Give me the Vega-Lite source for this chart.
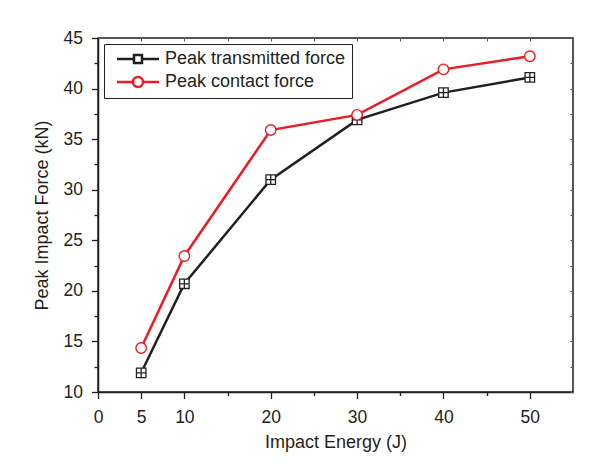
{
  "$schema": "https://vega.github.io/schema/vega-lite/v6.json",
  "width": 475,
  "height": 354,
  "autosize": {"type": "none"},
  "padding": {"left": 98, "top": 38, "right": 17, "bottom": 77},
  "background": "white",
  "config": {
    "view": {"stroke": "#231f20", "strokeWidth": 1.5},
    "font": "Liberation Sans",
    "axis": {
      "labelFont": "Liberation Sans",
      "titleFont": "Liberation Sans",
      "labelFontSize": 17.5,
      "titleFontSize": 18,
      "titleFontWeight": "normal",
      "labelColor": "#231f20",
      "titleColor": "#231f20",
      "domainColor": "#231f20",
      "tickColor": "#231f20",
      "domainWidth": 1.5,
      "tickWidth": 1.3,
      "grid": false,
      "labelOverlap": false,
      "labelFlush": false
    }
  },
  "data": {
    "values": [
      {"energy": 5, "force": 11.9, "series": "Peak transmitted force"},
      {"energy": 10, "force": 20.7, "series": "Peak transmitted force"},
      {"energy": 20, "force": 31.0, "series": "Peak transmitted force"},
      {"energy": 30, "force": 36.9, "series": "Peak transmitted force"},
      {"energy": 40, "force": 39.6, "series": "Peak transmitted force"},
      {"energy": 50, "force": 41.1, "series": "Peak transmitted force"},
      {"energy": 5, "force": 14.35, "series": "Peak contact force"},
      {"energy": 10, "force": 23.45, "series": "Peak contact force"},
      {"energy": 20, "force": 35.9, "series": "Peak contact force"},
      {"energy": 30, "force": 37.4, "series": "Peak contact force"},
      {"energy": 40, "force": 41.9, "series": "Peak contact force"},
      {"energy": 50, "force": 43.2, "series": "Peak contact force"}
    ]
  },
  "resolve": {"axis": {"x": "independent", "y": "independent"}},
  "layer": [
    {
      "mark": {"type": "line", "strokeWidth": 2.5},
      "encoding": {
        "x": {
          "field": "energy", "type": "quantitative",
          "scale": {"domain": [0, 55], "nice": false, "zero": false},
          "axis": {
            "orient": "bottom",
            "title": "Impact Energy (J)",
            "values": [0, 5, 10, 15, 20, 25, 30, 35, 40, 45, 50],
            "labelExpr": "(datum.value < 11 || datum.value % 10 === 0) ? datum.label : ''",
            "tickSize": {"condition": {"test": "datum.value < 11 || datum.value % 10 === 0", "value": 6.5}, "value": 3.5},
            "labelPadding": 10,
            "titlePadding": 7
          }
        },
        "y": {
          "field": "force", "type": "quantitative",
          "scale": {"domain": [10, 45], "nice": false, "zero": false},
          "axis": {
            "orient": "left",
            "title": "Peak Impact Force (kN)",
            "values": [10, 12.5, 15, 17.5, 20, 22.5, 25, 27.5, 30, 32.5, 35, 37.5, 40, 42.5, 45],
            "labelExpr": "datum.value % 5 === 0 ? datum.label : ''",
            "tickSize": {"condition": {"test": "datum.value % 5 === 0", "value": 6.5}, "value": 4},
            "labelPadding": 9,
            "titlePadding": 12
          }
        },
        "color": {
          "field": "series", "type": "nominal",
          "scale": {"domain": ["Peak transmitted force", "Peak contact force"], "range": ["#231f20", "#ed1c24"]},
          "legend": {
            "title": null,
            "orient": "top-left",
            "offset": 6,
            "padding": 6,
            "symbolOffset": 19,
            "strokeColor": "#231f20",
            "fillColor": "white",
            "labelFont": "Liberation Sans",
            "labelFontSize": 18,
            "labelLimit": 400,
            "labelColor": "#231f20",
            "symbolSize": 100,
            "symbolStrokeWidth": 2.5,
            "rowPadding": 4,
            "labelOffset": 18,
            "encode": {
              "symbols": {
                "update": {
                  "shape": {"signal": "datum.value === 'Peak transmitted force' ? 'M-4.2,0H-0.8M0.8,0H4.2M-0.8,-0.8H0.8V0.8H-0.8Z' : 'M-4.2,0H-1M1,0H4.2M-1,0A1,1 0 1,0 1,0A1,1 0 1,0 -1,0Z'"},
                  "fill": {"value": "white"},
                  "strokeWidth": {"value": 2.5}
                }
              }
            }
          }
        }
      }
    },
    {
      "transform": [{"filter": "datum.series === 'Peak transmitted force'"}],
      "mark": {"type": "point", "shape": "M-1,-1H1V1H-1ZM-1,0H1M0,-1V1", "size": 90, "fill": "white", "stroke": "#231f20", "filled": false, "strokeWidth": 1.3, "opacity": 1},
      "encoding": {
        "x": {
          "field": "energy", "type": "quantitative",
          "axis": {
            "orient": "top", "title": null, "labels": false, "domain": false,
            "values": [0, 5, 10, 15, 20, 25, 30, 35, 40, 45, 50],
            "tickSize": 3, "offset": -3, "tickColor": "#555555", "tickWidth": 1
          }
        },
        "y": {
          "field": "force", "type": "quantitative",
          "axis": {
            "orient": "right", "title": null, "labels": false, "domain": false,
            "values": [10, 12.5, 15, 17.5, 20, 22.5, 25, 27.5, 30, 32.5, 35, 37.5, 40, 42.5, 45],
            "tickSize": 3, "offset": -3, "tickColor": "#555555", "tickWidth": 1
          }
        }
      }
    },
    {
      "transform": [{"filter": "datum.series === 'Peak contact force'"}],
      "mark": {"type": "point", "shape": "circle", "size": 110, "fill": "white", "stroke": "#ed1c24", "filled": false, "strokeWidth": 1.4, "opacity": 1},
      "encoding": {
        "x": {"field": "energy", "type": "quantitative", "axis": null},
        "y": {"field": "force", "type": "quantitative", "axis": null}
      }
    }
  ]
}
